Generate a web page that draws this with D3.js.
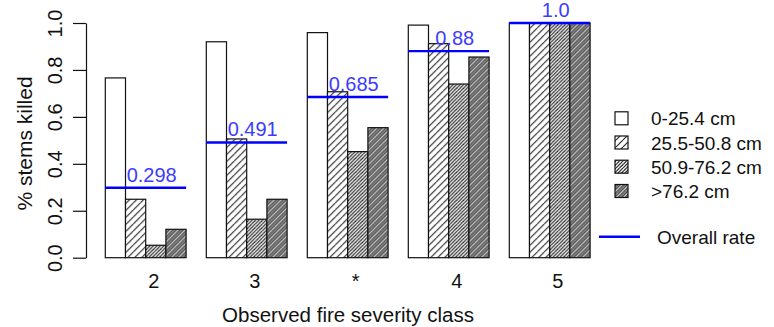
<!DOCTYPE html>
<html>
<head>
<meta charset="utf-8">
<script src="https://cdn.jsdelivr.net/npm/d3@7"></script>
<style>
  html, body { margin: 0; padding: 0; background: #fff; }
  svg { display: block; }
  text { font-family: "Liberation Sans", Arial, sans-serif; }
</style>
</head>
<body>
<script>
// Fire severity classes along the x axis
const classes = ["2", "3", "*", "4", "5"];
// Stem diameter classes (one bar per class in each group)
const sizeClasses = ["0-25.4 cm", "25.5-50.8 cm", "50.9-76.2 cm", ">76.2 cm"];
// Proportion of stems killed, per severity class, per diameter class
const killed0to25   = [0.766, 0.920, 0.959, 0.991, 1.0];
const killed25to50  = [0.249, 0.506, 0.707, 0.912, 1.0];
const killed50to76  = [0.053, 0.164, 0.452, 0.740, 1.0];
const killedOver76  = [0.121, 0.249, 0.554, 0.855, 1.0];
// Overall kill rate per severity class
const overallRate   = [0.298, 0.491, 0.685, 0.88, 1.0];
const overallLabels = ["0.298", "0.491", "0.685", "0.88", "1.0"];
const yTicks = [0, 0.2, 0.4, 0.6, 0.8, 1.0];

const seriesValues = [killed0to25, killed25to50, killed50to76, killedOver76];

const W = 774, H = 327;
const svg = d3.select("body").append("svg").attr("width", W).attr("height", H);

// Diagonal hatch fills for each diameter class
const defs = svg.append("defs");
function hatch(id, bg, lines) {
  const p = defs.append("pattern").attr("id", id)
    .attr("patternUnits", "userSpaceOnUse")
    .attr("width", 7).attr("height", 7);
  p.append("rect").attr("width", 7).attr("height", 7).attr("fill", bg);
  lines.forEach(l => {
    const g = p.append("g").attr("stroke", l.color).attr("stroke-width", l.w);
    l.offsets.forEach(o => {
      [-7, 0, 7].forEach(s => {
        g.append("line").attr("x1", s + o).attr("y1", 7).attr("x2", s + 7 + o).attr("y2", 0);
      });
    });
  });
  return "url(#" + id + ")";
}
const fills = [
  "#ffffff",
  hatch("p1", "#ffffff", [{ color: "#222", w: 1.1, offsets: [0] }]),
  hatch("p2", "#f4f4f4", [{ color: "#2a2a2a", w: 1.2, offsets: [0, 3.5] }]),
  hatch("p3", "#7c7c7c", [{ color: "#4a4a4a", w: 0.9, offsets: [0, 3.5] }, { color: "#f0f0f0", w: 0.9, offsets: [1.75] }])
];

// Scales
const x0 = d3.scaleBand().domain(classes).range([95.2, 600.2]).paddingInner(0.2).paddingOuter(0.1);
const x1 = d3.scaleBand().domain(d3.range(sizeClasses.length)).range([0, x0.bandwidth()]);
const y = d3.scaleLinear().domain([0, 1]).range([257.7, 23]);

// Bars
const groups = svg.append("g").selectAll("g").data(classes).join("g")
  .attr("transform", d => `translate(${x0(d)},0)`);
groups.selectAll("rect")
  .data((d, i) => seriesValues.map((s, j) => ({ j, v: s[i] })))
  .join("rect")
  .attr("x", d => x1(d.j))
  .attr("y", d => y(d.v))
  .attr("width", x1.bandwidth())
  .attr("height", d => y(0) - y(d.v))
  .attr("fill", d => fills[d.j])
  .attr("stroke", "#111")
  .attr("stroke-width", 1.2);

// Overall rate lines and labels
const blue = "#0000ff";
svg.append("g").selectAll("line").data(classes).join("line")
  .attr("x1", d => x0(d)).attr("x2", d => x0(d) + x0.bandwidth())
  .attr("y1", (d, i) => y(overallRate[i])).attr("y2", (d, i) => y(overallRate[i]))
  .attr("stroke", blue).attr("stroke-width", 2.4);
svg.append("g").selectAll("text").data(classes).join("text")
  .attr("x", d => x0(d) + x0.bandwidth() / 2 + 6)
  .attr("y", (d, i) => y(overallRate[i]) - 6)
  .attr("text-anchor", "middle")
  .attr("fill", "#3c3cff")
  .attr("font-size", 20)
  .text((d, i) => overallLabels[i]);

// Y axis (rotated tick labels)
const yAxis = svg.append("g").attr("transform", "translate(86,0)")
  .call(d3.axisLeft(y).tickValues(yTicks).tickFormat(d3.format(".1f")).tickSize(13).tickSizeOuter(0));
yAxis.select(".domain").attr("stroke", "#111").attr("stroke-width", 1.2);
yAxis.selectAll(".tick line").attr("stroke", "#111").attr("stroke-width", 1.2);
yAxis.selectAll(".tick text")
  .attr("font-size", 20).attr("fill", "#111")
  .attr("font-family", "Liberation Sans, Arial, sans-serif")
  .attr("text-anchor", "middle")
  .attr("transform", "rotate(-90)")
  .attr("x", 0).attr("y", -24.5).attr("dy", 0);

svg.append("text")
  .attr("transform", "translate(31.5,143.5) rotate(-90)")
  .attr("text-anchor", "middle")
  .attr("font-size", 21)
  .attr("fill", "#111")
  .text("% stems killed");

// X category labels (no axis line)
svg.append("g").selectAll("text").data(classes).join("text")
  .attr("x", d => x0(d) + x0.bandwidth() / 2 + 8)
  .attr("y", 288)
  .attr("text-anchor", "middle")
  .attr("font-size", 20)
  .attr("fill", "#111")
  .text(d => d);

svg.append("text")
  .attr("x", 348).attr("y", 322)
  .attr("text-anchor", "middle")
  .attr("font-size", 20.5)
  .attr("fill", "#111")
  .text("Observed fire severity class");

// Legend
const legendY = [118.3, 142.5, 166.7, 191];
const legend = svg.append("g");
sizeClasses.forEach((name, j) => {
  legend.append("rect")
    .attr("x", 615).attr("y", legendY[j] - 6.5).attr("width", 13).attr("height", 13)
    .attr("fill", fills[j]).attr("stroke", "#111").attr("stroke-width", 1.2);
  legend.append("text")
    .attr("x", 651).attr("y", legendY[j] + 7)
    .attr("font-size", 19).attr("fill", "#111")
    .text(name);
});
legend.append("line")
  .attr("x1", 599).attr("x2", 640).attr("y1", 236.7).attr("y2", 236.7)
  .attr("stroke", blue).attr("stroke-width", 2.4);
legend.append("text")
  .attr("x", 657).attr("y", 243.5)
  .attr("font-size", 19).attr("fill", "#111")
  .text("Overall rate");
</script>
</body>
</html>
